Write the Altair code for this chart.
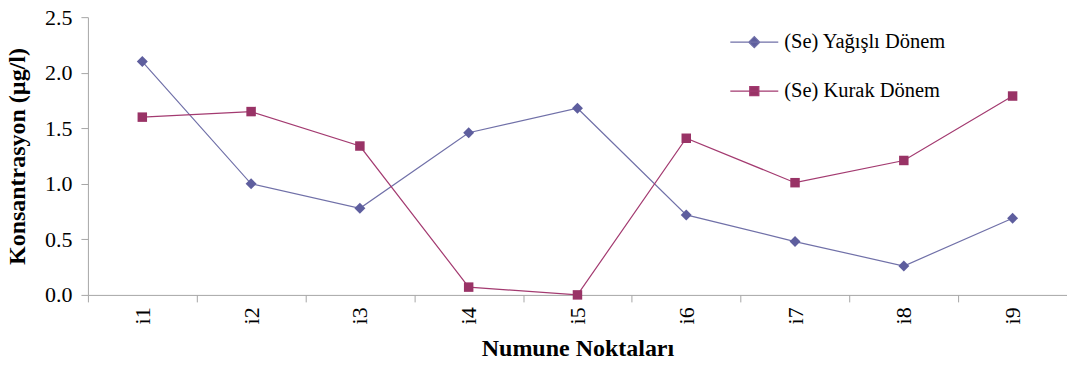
import altair as alt
import pandas as pd

categories = ["i1", "i2", "i3", "i4", "i5", "i6", "i7", "i8", "i9"]
series_names = ["(Se) Yağışlı Dönem", "(Se) Kurak Dönem"]
yagisli = [2.10, 1.00, 0.78, 1.46, 1.68, 0.72, 0.48, 0.26, 0.69]
kurak = [1.60, 1.65, 1.34, 0.07, 0.00, 1.41, 1.01, 1.21, 1.79]
y_ticks = [0.0, 0.5, 1.0, 1.5, 2.0, 2.5]

line_colors = ["#7070A8", "#A33A70"]
point_colors = ["#5E5E9E", "#993366"]

rows = []
for c, a, b in zip(categories, yagisli, kurak):
    rows.append({"Nokta": c, "Seri": series_names[0], "Deger": a})
    rows.append({"Nokta": c, "Seri": series_names[1], "Deger": b})
df = pd.DataFrame(rows)

FONT = "Liberation Serif"

x_enc = alt.X(
    "Nokta:N",
    sort=categories,
    bandPosition=0.5,
    scale=alt.Scale(type="band", paddingInner=0, paddingOuter=0),
    axis=alt.Axis(
        title="Numune Noktaları",
        labelAngle=-90,
        labelAlign="right",
        labelBaseline="middle",
        labelFontSize=22,
        labelPadding=5,
        tickBand="extent",
        tickSize=7,
        titleFontSize=24,
        titleFontWeight="bold",
        titlePadding=13,
    ),
)
y_enc = alt.Y(
    "Deger:Q",
    scale=alt.Scale(domain=[0, 2.5], nice=False),
    axis=alt.Axis(
        title="Konsantrasyon (µg/l)",
        values=y_ticks,
        format=".1f",
        labelFontSize=22,
        labelPadding=9,
        tickSize=7,
        titleFontSize=24,
        titleFontWeight="bold",
        titlePadding=15,
    ),
)

diamond_path = "M-1,0L1,0M-0.23,0L0,-0.23L0.23,0L0,0.23Z"
square_path = "M-1,0L1,0M-0.19,-0.19L0.19,-0.19L0.19,0.19L-0.19,0.19Z"

lines = alt.Chart(df).mark_line(strokeWidth=1.2).encode(
    x=x_enc,
    y=y_enc,
    stroke=alt.Stroke(
        "Seri:N",
        sort=series_names,
        scale=alt.Scale(domain=series_names, range=line_colors),
        legend=None,
    ),
)

points = alt.Chart(df).mark_point(filled=True, opacity=1).encode(
    x=x_enc,
    y=y_enc,
    shape=alt.Shape(
        "Seri:N",
        sort=series_names,
        scale=alt.Scale(domain=series_names, range=["diamond", "square"]),
        legend=None,
    ),
    fill=alt.Fill(
        "Seri:N",
        sort=series_names,
        scale=alt.Scale(domain=series_names, range=point_colors),
        legend=None,
    ),
    size=alt.Size(
        "Seri:N",
        scale=alt.Scale(domain=series_names, range=[120, 90]),
        legend=None,
    ),
)

legend_layer = (
    alt.Chart(df)
    .transform_filter("datum.Deger < -1")
    .mark_point(filled=False, opacity=1, strokeWidth=1.2)
    .encode(
        x=x_enc,
        y=y_enc,
        shape=alt.Shape(
            "Seri:N",
            sort=series_names,
            scale=alt.Scale(domain=series_names, range=[diamond_path, square_path]),
            legend=alt.Legend(
                title=None,
                orient="none",
                legendX=642,
                legendY=0,
                padding=0,
                symbolSize=2304,
                symbolStrokeWidth=1.2,
                symbolOpacity=1,
                labelFontSize=20.5,
                labelOffset=5,
                rowPadding=13,
                labelFont=FONT,
                labelLimit=400,
            ),
        ),
        stroke=alt.Stroke(
            "Seri:N",
            sort=series_names,
            scale=alt.Scale(domain=series_names, range=line_colors),
        ),
        fill=alt.Fill(
            "Seri:N",
            sort=series_names,
            scale=alt.Scale(domain=series_names, range=point_colors),
        ),
    )
)

chart = (
    alt.layer(lines, points, legend_layer)
    .resolve_scale(shape="independent", fill="independent", stroke="independent", size="independent")
    .properties(
        width=980,
        height=278,
        autosize=alt.AutoSizeParams(type="none"),
        padding={"left": 88, "top": 17, "right": 0, "bottom": 70},
        background="white",
    )
    .configure_view(stroke=None)
    .configure_axis(
        labelFont=FONT,
        titleFont=FONT,
        labelColor="black",
        titleColor="black",
        domainColor="#A6A6A6",
        tickColor="#A6A6A6",
        grid=False,
    )
    .configure_legend(labelFont=FONT, labelColor="black")
)

chart.save("out.html", embed_options={"renderer": "svg", "actions": False})
